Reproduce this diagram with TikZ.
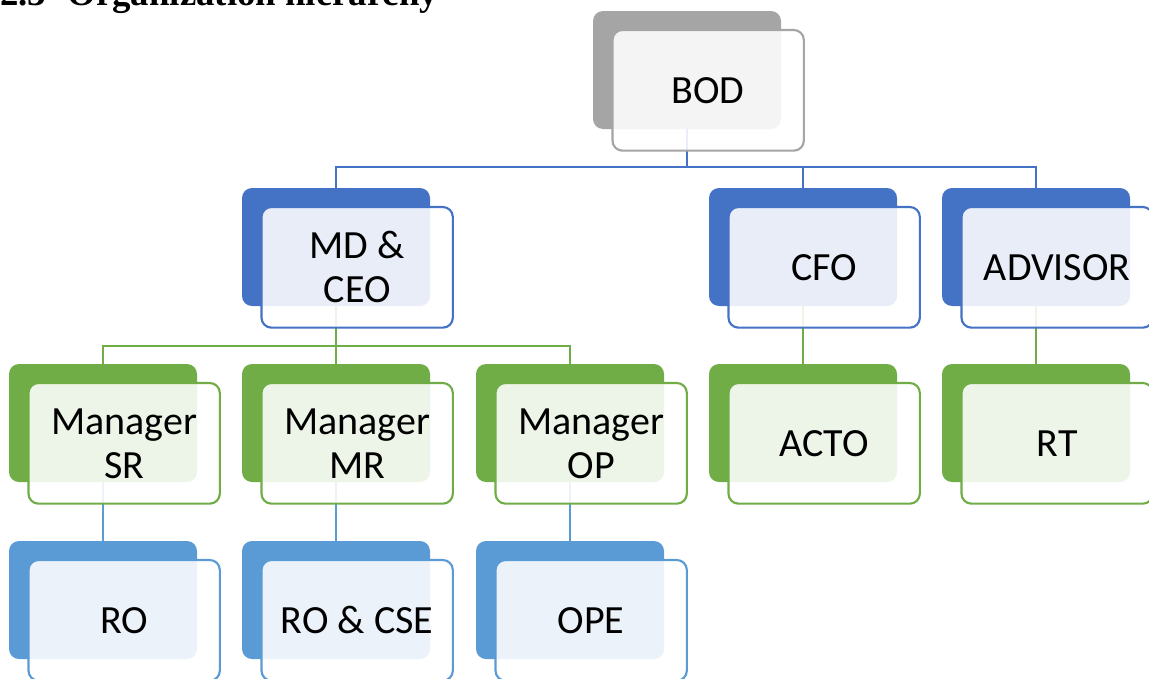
\documentclass[tikz,border=0pt]{standalone}
\usepackage{fontspec}
\setmainfont{Liberation Serif}
\newfontfamily\calibri{Carlito}
\definecolor{cgray}{HTML}{A5A5A5}
\definecolor{cblue}{HTML}{4472C4}
\definecolor{cgreen}{HTML}{70AD47}
\definecolor{clblue}{HTML}{5B9BD5}
\begin{document}
\begin{tikzpicture}[x=0.75pt,y=-0.75pt,
  back/.style={rectangle, rounded corners=7.5pt, minimum width=141pt, minimum height=88.5pt, inner sep=0pt, outer sep=0pt, anchor=north west},
  front/.style={rectangle, rounded corners=7.5pt, minimum width=143.5pt, minimum height=90.5pt, inner sep=0pt, outer sep=0pt, anchor=north west, fill=white, fill opacity=0.88, text opacity=1, draw opacity=1, line width=1.6pt, font=\calibri\fontsize{30}{33}\selectfont, align=center, text=black},
  conn/.style={line width=1.5pt}]
\useasboundingbox (0,0) rectangle (1149,678);
\node[font=\bfseries\fontsize{27.6}{30}\selectfont, anchor=base west, inner sep=0pt] (title) at (0,5.5) {2.3\hspace{16pt}Organization hierarchy};
% back shapes
\node[back, fill=cgray] (bodB) at (593,11) {};
\node[back, fill=cblue] (mdB) at (242,188) {};
\node[back, fill=cblue] (cfoB) at (709,188) {};
\node[back, fill=cblue] (advB) at (942,188) {};
\node[back, fill=cgreen] (srB) at (9,364) {};
\node[back, fill=cgreen] (mrB) at (242,364) {};
\node[back, fill=cgreen] (opB) at (476,364) {};
\node[back, fill=cgreen] (actoB) at (709,364) {};
\node[back, fill=cgreen] (rtB) at (942,364) {};
\node[back, fill=clblue] (roB) at (9,541) {};
\node[back, fill=clblue] (rocseB) at (242,541) {};
\node[back, fill=clblue] (opeB) at (476,541) {};
% connectors
\coordinate (bus1) at (0,167);
\coordinate (bus2) at (0,346);
\draw[conn, cblue] (bodB.south) -- (bodB.south |- bus1);
\draw[conn, cblue] (mdB.north) |- (advB.north |- bus1) -- (advB.north);
\draw[conn, cblue] (cfoB.north) -- (cfoB.north |- bus1);
\draw[conn, cgreen] (mdB.south) -- (mrB.north);
\draw[conn, cgreen] (srB.north) |- (opB.north |- bus2) -- (opB.north);
\draw[conn, cgreen] (cfoB.south) -- (actoB.north);
\draw[conn, cgreen] (advB.south) -- (rtB.north);
\draw[conn, clblue] (srB.south) -- (roB.north);
\draw[conn, clblue] (mrB.south) -- (rocseB.north);
\draw[conn, clblue] (opB.south) -- (opeB.north);
% front shapes
\node[front, draw=cgray] (bodF) at (612.5,30) {BOD};
\node[front, draw=cblue] (mdF) at (261.5,207) {MD \&\\CEO};
\node[front, draw=cblue] (cfoF) at (728.5,207) {CFO};
\node[front, draw=cblue] (advF) at (961.5,207) {ADVISOR};
\node[front, draw=cgreen] (srF) at (28.5,383) {Manager\\SR};
\node[front, draw=cgreen] (mrF) at (261.5,383) {Manager\\MR};
\node[front, draw=cgreen] (opF) at (495.5,383) {Manager\\OP};
\node[front, draw=cgreen] (actoF) at (728.5,383) {ACTO};
\node[front, draw=cgreen] (rtF) at (961.5,383) {RT};
\node[front, draw=clblue] (roF) at (28.5,560) {RO};
\node[front, draw=clblue] (rocseF) at (261.5,560) {RO \& CSE};
\node[front, draw=clblue] (opeF) at (495.5,560) {OPE};
\end{tikzpicture}
\end{document}
